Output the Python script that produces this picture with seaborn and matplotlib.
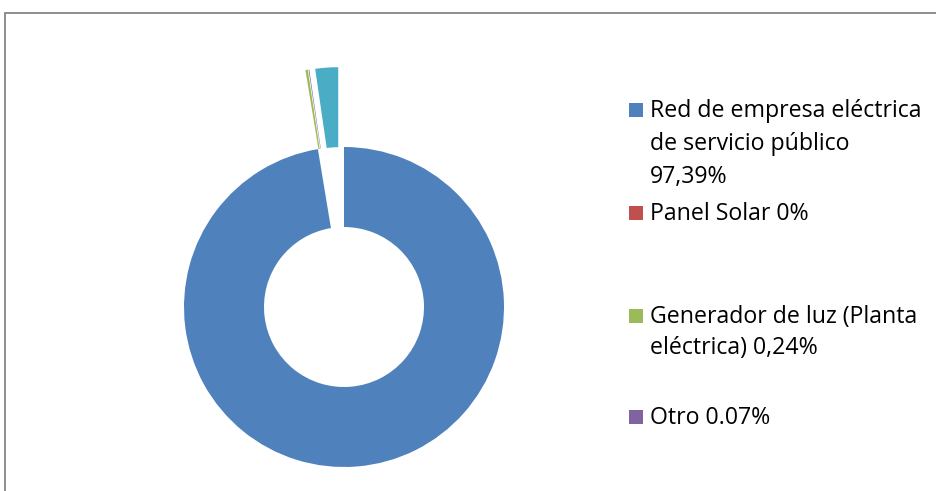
import matplotlib
matplotlib.use("Agg")
import matplotlib.pyplot as plt
from matplotlib.patches import Rectangle
import seaborn as sns

# ---- data ----
categories = ["Red de empresa eléctrica\nde servicio público\n97,39%",
              "Panel Solar 0%",
              "Generador de luz (Planta\neléctrica) 0,24%",
              "Otro 0.07%",
              "Otro (sin leyenda)"]
values = [97.39, 0.0, 0.24, 0.07, 2.30]
explode = [0.0, 0.5, 0.5, 0.5, 0.5]
palette = sns.color_palette(["#4F81BD", "#C0504D", "#9BBB59", "#8064A2", "#4BACC6"])

sns.set_theme(style="white")
plt.rcParams['font.family'] = ['Open Sans', 'DejaVu Sans']

W, H = 936, 491
fig = plt.figure(figsize=(W / 100, H / 100), dpi=100)
fig.patch.set_facecolor("white")

# pie centre at (344, 307) px from top-left, outer radius 160 px
cx, cy, R = 344, 307, 160
ax = fig.add_axes([0, 0, 1, 1])
ax.pie(values, colors=palette, startangle=90, counterclock=False,
       explode=explode, radius=1.0,
       wedgeprops=dict(width=0.5, linewidth=0))
ax.set_xlim(-cx / R, (W - cx) / R)
ax.set_ylim(-(H - cy) / R, cy / R)
ax.set_aspect("auto")
ax.axis("off")

# outer frame (gray border, left & top visible)
fig.patches.append(Rectangle((5 / W, -0.1), 1.2, (H - 13) / H + 0.1,
                             transform=fig.transFigure, fill=False,
                             edgecolor="#868686", linewidth=1.3))

# legend drawn manually (4 visible entries)
fs = 16.7
def px(x, y):
    return x / W, 1 - y / H

legend_items = [
    (0, [("Red de empresa eléctrica", 117), ("de servicio público", 150), ("97,39%", 183)]),
    (1, [("Panel Solar 0%", 220)]),
    (2, [("Generador de luz (Planta", 323), ("eléctrica) 0,24%", 354)]),
    (3, [("Otro 0.07%", 424)]),
]
for idx, lines in legend_items:
    base = lines[0][1]
    x0, y0 = px(629, base)
    fig.patches.append(Rectangle((x0, y0), 14 / W, 14 / H,
                                 transform=fig.transFigure,
                                 facecolor=palette[idx], edgecolor="none"))
    for txt, yb in lines:
        tx, ty = px(650, yb)
        fig.text(tx, ty, txt, fontsize=fs, va="baseline", ha="left", color="#000000")

fig.savefig("out.png", dpi=100)
